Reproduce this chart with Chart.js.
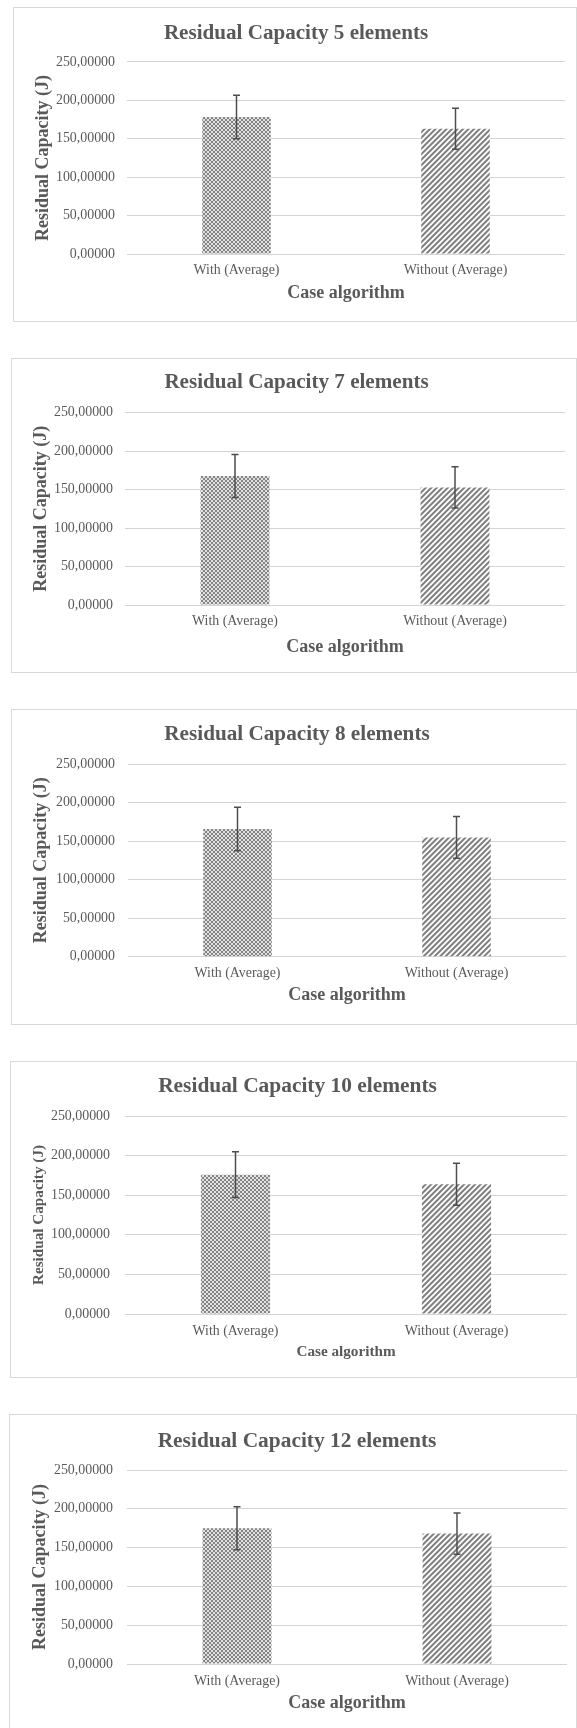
<!DOCTYPE html>
<html>
<head>
<meta charset="utf-8">
<script src="https://cdn.jsdelivr.net/npm/chart.js@4.4.1/dist/chart.umd.min.js"></script>
<style>
  html, body { margin:0; padding:0; background:#ffffff; }
  body { width:577px; height:1728px; position:relative; overflow:hidden; }
  .panel { position:absolute; box-sizing:border-box; border:1.5px solid #d9d9d9; background:#fff; }
  canvas { position:absolute; }
</style>
</head>
<body>
<script>
// ---------------- DATA ----------------
const categories = ['With (Average)', 'Without (Average)'];
const chartTitles = [
  'Residual Capacity 5 elements',
  'Residual Capacity 7 elements',
  'Residual Capacity 8 elements',
  'Residual Capacity 10 elements',
  'Residual Capacity 12 elements'
];
const withAverage    = [178.4, 167.7, 165.7, 175.9, 175.0];
const withoutAverage = [163.2, 152.9, 154.8, 163.7, 168.1];
const withError      = [28.4, 28.0, 28.1, 28.9, 27.8];
const withoutError   = [26.7, 26.7, 27.0, 26.5, 26.6];
const yTickValues    = [0, 50, 100, 150, 200, 250];
const xAxisTitle = 'Case algorithm';
const yAxisTitle = 'Residual Capacity (J)';

// ---------------- LAYOUT (page px) ----------------
const layouts = [
  {L:13, T:7,    B:322,  titleCx:296,   titleCy:33.5,  top:62,    bottom:254,   labCy:270,   xtCy:293,   plotL:127, plotR:565, ytCx:43,   tickR:115, tfs:21.1, afs:18},
  {L:11, T:358,  B:673,  titleCx:296.5, titleCy:382.3, top:412.7, bottom:605,   labCy:621.7, xtCy:647.7, plotL:125, plotR:565, ytCx:41,   tickR:113, tfs:21.1, afs:18},
  {L:11, T:709,  B:1025, titleCx:297,   titleCy:734.3, top:764,   bottom:956.7, labCy:973.3, xtCy:995.7, plotL:128, plotR:566, ytCx:41,   tickR:115, tfs:21.2, afs:18},
  {L:10, T:1061, B:1378, titleCx:297.5, titleCy:1086,  top:1116,  bottom:1314,  labCy:1331,  xtCy:1352,  plotL:125, plotR:567, ytCx:38.6, tickR:110, tfs:21.4, afs:15.2},
  {L:9,  T:1414, B:1745, titleCx:297,   titleCy:1441,  top:1470,  bottom:1664,  labCy:1681,  xtCy:1703,  plotL:127, plotR:567, ytCx:40.5, tickR:113, tfs:21.4, afs:18}
];

const FONT = "'Liberation Serif', 'Times New Roman', serif";
const TEXT = '#595959';
const TICK_FS = 13.9;

function checkerPattern(ctx) {
  const c = document.createElement('canvas');
  c.width = 4; c.height = 4;
  const g = c.getContext('2d');
  g.fillStyle = '#e0e0e0'; g.fillRect(0,0,4,4);
  g.fillStyle = '#858585';
  g.fillRect(0,0,2,2); g.fillRect(2,2,2,2);
  return ctx.createPattern(c, 'repeat');
}
function hatchPattern(ctx) {
  const s = 11;
  const c = document.createElement('canvas');
  c.width = s; c.height = s;
  const g = c.getContext('2d');
  g.fillStyle = '#ffffff'; g.fillRect(0,0,s,s);
  g.strokeStyle = '#828282'; g.lineWidth = 2.1;
  g.beginPath();
  [0, 5.5, 11, 16.5, 22].forEach(k => {
    g.moveTo(k + 2, -2); g.lineTo(k - s - 2, s + 2);
  });
  g.stroke();
  return ctx.createPattern(c, 'repeat');
}

const errorBarPlugin = {
  id: 'errorBars',
  afterDatasetsDraw(chart, args, opts) {
    const ctx = chart.ctx;
    const yScale = chart.scales.y;
    const meta = chart.getDatasetMeta(0);
    const vals = chart.data.datasets[0].data;
    const errs = opts.errors || [];
    ctx.save();
    ctx.strokeStyle = '#4d4d4d';
    ctx.lineWidth = 1.5;
    meta.data.forEach((bar, i) => {
      const x = bar.x;
      const yT = yScale.getPixelForValue(vals[i] + errs[i]);
      const yB = yScale.getPixelForValue(vals[i] - errs[i]);
      ctx.beginPath();
      ctx.moveTo(x, yT); ctx.lineTo(x, yB);
      ctx.moveTo(x - 3.5, yT); ctx.lineTo(x + 3.5, yT);
      ctx.moveTo(x - 3.5, yB); ctx.lineTo(x + 3.5, yB);
      ctx.stroke();
    });
    ctx.restore();
  }
};

layouts.forEach((g, i) => {
  const PW = 577 - g.L;
  const H = g.B - g.T;
  const panel = document.createElement('div');
  panel.className = 'panel';
  panel.style.left = g.L + 'px';
  panel.style.top = g.T + 'px';
  panel.style.width = PW + 'px';
  panel.style.height = H + 'px';
  document.body.appendChild(panel);

  // canvas width chosen so the chart title (centred on the canvas) lands where the reference has it
  const W = Math.round(2 * (g.titleCx - g.L));
  const cv = document.createElement('canvas');
  cv.width = W; cv.height = H;
  cv.style.left = g.L + 'px';
  cv.style.top = g.T + 'px';
  cv.style.width = W + 'px';
  cv.style.height = H + 'px';
  document.body.appendChild(cv);
  const ctx = cv.getContext('2d');

  const titlePadTop = g.titleCy - g.T - g.tfs / 2;
  const titlePadBottom = (g.top - g.T) - titlePadTop - g.tfs;
  const yScaleWidth = g.plotL - g.L;
  const rightGap = g.L + W - g.plotR;
  const xScaleHeight = H - (g.bottom - g.T);
  const tickLH = TICK_FS * 1.2;

  new Chart(ctx, {
    type: 'bar',
    data: {
      labels: categories,
      datasets: [{
        data: [withAverage[i], withoutAverage[i]],
        backgroundColor: [checkerPattern(ctx), hatchPattern(ctx)],
        borderWidth: 0,
        categoryPercentage: 1,
        barPercentage: 0.313
      }]
    },
    options: {
      responsive: false,
      animation: false,
      devicePixelRatio: 1,
      layout: { padding: 0 },
      plugins: {
        legend: { display: false },
        tooltip: { enabled: false },
        title: {
          display: true,
          text: chartTitles[i],
          color: TEXT,
          font: { family: FONT, size: g.tfs, weight: 'bold', lineHeight: 1 },
          padding: { top: titlePadTop, bottom: titlePadBottom }
        },
        errorBars: { errors: [withError[i], withoutError[i]] }
      },
      scales: {
        x: {
          grid: { display: false, drawTicks: false },
          border: { display: false },
          ticks: {
            color: TEXT,
            font: { family: FONT, size: TICK_FS, lineHeight: 1.2 },
            padding: (g.labCy - g.bottom) - tickLH / 2,
            maxRotation: 0, autoSkip: false
          },
          title: {
            display: true,
            text: xAxisTitle,
            color: TEXT,
            font: { family: FONT, size: g.afs, weight: 'bold', lineHeight: 1 },
            padding: { top: 0, bottom: H - (g.xtCy - g.T) - g.afs / 2 }
          },
          afterFit: (s) => { s.height = xScaleHeight; }
        },
        y: {
          min: 0, max: 250,
          afterBuildTicks: (s) => { s.ticks = yTickValues.map(v => ({ value: v })); },
          grid: { color: '#d4d4d4', lineWidth: 1, drawTicks: false },
          border: { display: false },
          ticks: {
            color: TEXT,
            font: { family: FONT, size: TICK_FS },
            padding: g.plotL - g.tickR,
            callback: (v) => Number(v).toFixed(5).replace('.', ',')
          },
          title: {
            display: true,
            text: yAxisTitle,
            color: TEXT,
            font: { family: FONT, size: g.afs, weight: 'bold', lineHeight: 1 },
            padding: { top: g.ytCx - g.L - g.afs / 2, bottom: 0 }
          },
          afterFit: (s) => { s.width = yScaleWidth; }
        },
        // empty spacer axis on the right, reserving the gap between plot and panel edge
        spacer: {
          type: 'linear',
          position: 'right',
          min: 0, max: 250,
          grid: { display: false, drawTicks: false },
          border: { display: false },
          ticks: { display: false },
          afterFit: (s) => { s.width = rightGap; }
        }
      }
    },
    plugins: [errorBarPlugin]
  });
});
</script>
</body>
</html>
